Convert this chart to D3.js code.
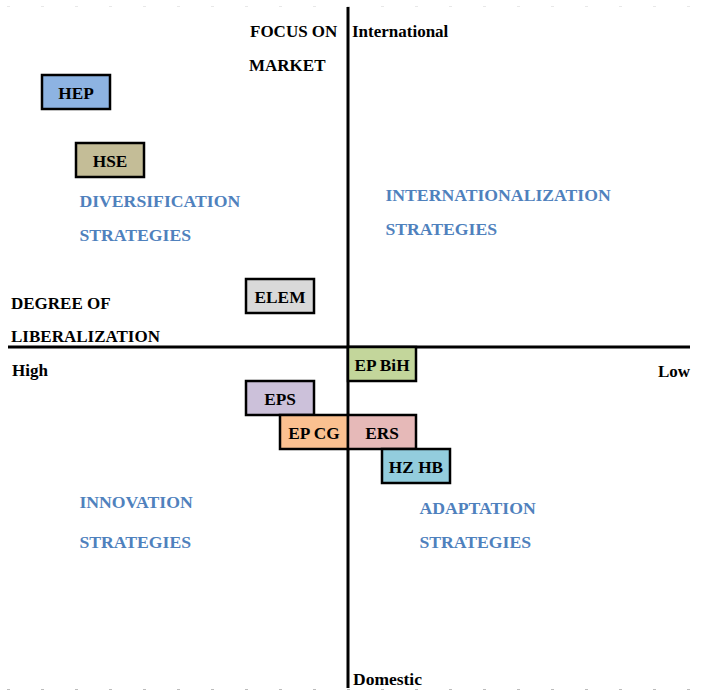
<!DOCTYPE html>
<html>
<head>
<meta charset="utf-8">
<script src="https://cdn.jsdelivr.net/npm/d3@7"></script>
<style>
  body { margin: 0; background: #fff; }
  svg text { font-family: "Liberation Serif", "Times New Roman", serif; font-weight: bold; }
</style>
</head>
<body>
<svg id="chart" width="714" height="691"></svg>
<script>
// companies and where they sit (left column / top row of each box, in grid units)
var firms = ["HEP", "HSE", "ELEM", "EP BiH", "EPS", "EP CG", "ERS", "HZ HB"];
var liberalization = [-9, -8, -3, 0, -3, -2, 0, 1];
var marketFocus = [8, 6, 2, 0, -1, -2, -2, -3];
var boxColors = ["#8db3e2", "#c4bd97", "#d9d9d9", "#c3d69b", "#ccc1da", "#fac090", "#e6b9b8", "#93cddd"];

// quadrant names, two lines each
var quadrantLines = [["DIVERSIFICATION", "STRATEGIES"], ["INTERNATIONALIZATION", "STRATEGIES"],
                     ["INNOVATION", "STRATEGIES"], ["ADAPTATION", "STRATEGIES"]];
var quadrantX = [-7.9, 1.1, -7.9, 2.1];
var quadrantY1 = [4.12, 4.29, -4.74, -4.91];
var quadrantY2 = [3.12, 3.29, -5.91, -5.91];

var svg = d3.select("#chart");
var x = d3.scaleLinear().domain([-10, 10]).range([8, 688]);
var y = d3.scaleLinear().domain([-10, 10]).range([687, 7]);
var unit = x(1) - x(0);

// faint grid marks at top and bottom edges
var marks = d3.range(-10, 11);
svg.selectAll(".topmark").data(marks).enter().append("rect")
  .attr("x", d => x(d) - 1).attr("y", 6).attr("width", 3).attr("height", 1)
  .attr("fill", "#e8e8e8");
svg.selectAll(".botmark").data(marks).enter().append("rect")
  .attr("x", d => x(d) - 1).attr("y", 689).attr("width", 3).attr("height", 1)
  .attr("fill", "#bdbdbd");

// axes
svg.append("line").attr("x1", x(0)).attr("x2", x(0)).attr("y1", y(10)).attr("y2", y(-10) + 1)
  .attr("stroke", "#000").attr("stroke-width", 3);
svg.append("line").attr("x1", x(-10)).attr("x2", x(10) + 2).attr("y1", y(0)).attr("y2", y(0))
  .attr("stroke", "#000").attr("stroke-width", 3);

// boxes
var boxes = svg.selectAll(".box").data(firms).enter().append("g");
boxes.append("rect")
  .attr("x", (d, i) => x(liberalization[i]))
  .attr("y", (d, i) => y(marketFocus[i]))
  .attr("width", unit * 2)
  .attr("height", unit)
  .attr("fill", (d, i) => boxColors[i])
  .attr("stroke", "#000")
  .attr("stroke-width", 2.5);
boxes.append("text")
  .attr("x", (d, i) => x(liberalization[i]) + unit)
  .attr("y", (d, i) => y(marketFocus[i]) + unit / 2 + 7)
  .attr("text-anchor", "middle")
  .attr("font-size", 17.3)
  .attr("fill", "#000")
  .text(d => d);

// quadrant labels
quadrantLines.forEach(function(lines, i) {
  var ys = [quadrantY1[i], quadrantY2[i]];
  lines.forEach(function(t, j) {
    svg.append("text")
      .attr("x", x(quadrantX[i]))
      .attr("y", y(ys[j]))
      .attr("font-size", 17.7)
      .attr("fill", "#4f81bd")
      .text(t);
  });
});

// axis titles
function label(t, px, py, size) {
  svg.append("text").attr("x", px).attr("y", py).attr("font-size", size).attr("fill", "#000").text(t);
}
label("FOCUS ON", 250, 37, 17);
label("MARKET", 249, 71, 17);
label("International", 352, 37, 17);
label("Domestic", 353, 685, 17.5);
label("DEGREE OF", 11, 309, 17);
label("LIBERALIZATION", 11, 342, 17);
label("High", 12, 376, 17);
label("Low", 658, 377, 17);
</script>
</body>
</html>
